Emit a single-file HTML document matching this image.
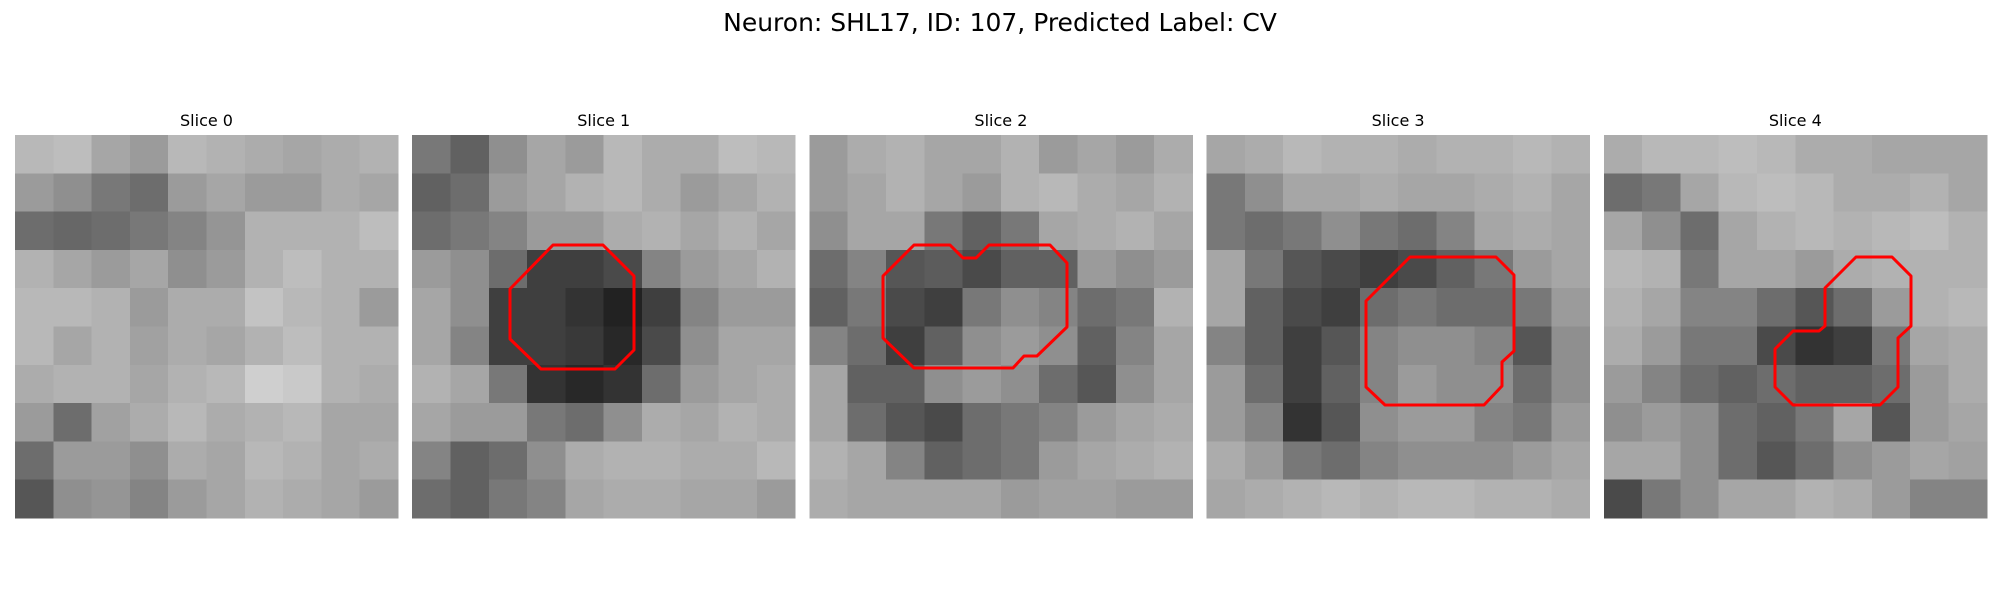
<!DOCTYPE html>
<html><head><meta charset="utf-8"><style>
html,body{margin:0;padding:0;background:#fff;width:2000px;height:600px;overflow:hidden}
svg text{font-family:"DejaVu Sans","Liberation Sans",sans-serif;fill:#000}
</style></head><body>
<svg id="fig" width="2000" height="600" viewBox="0 0 2000 600" xmlns="http://www.w3.org/2000/svg">
<text x="1000" y="31" font-size="25" text-anchor="middle">Neuron: SHL17, ID: 107, Predicted Label: CV</text>
<g id="panels"></g>
<g id="contours" fill="none" stroke="#ff0000" stroke-width="3" stroke-linejoin="round">
<polygon points="553,245 603,245 634,276 634,350 615,369 541,369 510,339 510,289"/>
<polygon points="914,245 950,245 963,258 976,258 989,245 1050,245 1067,263 1067,327 1037,356 1024,356 1013,368 914,368 883,338 883,276"/>
<polygon points="1410,257 1496,257 1514,275 1514,351 1502,362 1502,386 1484,405 1385,405 1366,387 1366,301"/>
<polygon points="1856,257 1892,257 1911,276 1911,326 1898,338 1898,387 1880,405 1793,405 1775,387 1775,349 1793,331 1819,331 1825,326 1825,288"/>
</g>
</svg>
<script>
const sliceLabels = ["Slice 0","Slice 1","Slice 2","Slice 3","Slice 4"];
const slice0 = [
[175,180,160,150,175,170,165,160,165,170],
[150,140,120,110,150,160,150,150,165,160],
[110,105,110,120,130,145,170,170,170,180],
[170,160,150,160,140,150,170,180,170,170],
[175,175,170,150,165,165,185,175,170,150],
[175,160,170,155,165,160,170,180,170,170],
[165,170,170,160,170,175,195,190,170,165],
[150,110,155,165,175,165,170,175,160,160],
[110,150,150,140,165,160,175,170,160,165],
[90,140,145,130,150,160,170,165,160,150]];
const slice1 = [
[120,100,140,160,150,175,165,165,180,175],
[100,110,150,160,170,175,165,150,160,170],
[110,120,130,150,150,165,170,160,170,160],
[150,140,110,70,70,80,130,150,160,170],
[160,140,70,70,60,45,70,130,150,150],
[160,130,70,70,65,50,80,140,160,160],
[170,160,120,60,50,60,110,150,160,165],
[160,150,150,120,110,140,165,160,170,165],
[130,100,110,140,165,170,170,165,165,175],
[110,100,120,130,160,165,165,160,160,150]];
const slice2 = [
[150,165,170,160,160,170,150,160,150,165],
[150,160,170,160,150,170,175,165,160,170],
[140,160,160,120,100,120,160,165,170,160],
[110,130,90,95,80,100,100,150,140,150],
[100,120,80,70,120,140,130,110,120,170],
[130,110,70,100,140,150,140,100,130,160],
[160,100,100,140,150,140,110,90,140,160],
[160,110,90,80,110,120,130,150,160,165],
[170,160,130,100,110,120,150,160,165,170],
[165,160,160,160,160,150,155,155,150,150]];
const slice3 = [
[160,165,175,170,170,165,170,170,175,170],
[120,140,160,160,165,160,160,165,170,160],
[120,110,120,140,120,110,130,160,165,160],
[160,120,90,80,70,80,100,120,150,160],
[160,100,80,70,110,120,110,110,120,150],
[130,100,70,90,130,140,140,130,90,140],
[150,110,70,100,130,150,140,140,110,140],
[150,130,60,90,140,150,150,130,120,150],
[165,150,120,110,130,140,140,140,150,160],
[160,165,170,175,170,175,175,170,170,165]];
const slice4 = [
[165,175,175,180,175,165,165,160,160,160],
[110,120,160,175,180,175,165,165,170,160],
[160,140,110,160,170,175,170,175,180,170],
[175,170,120,160,160,150,165,170,170,170],
[170,160,130,130,110,90,110,150,170,175],
[165,150,120,120,80,60,70,120,160,165],
[150,130,110,100,110,100,100,110,150,165],
[140,150,140,110,100,120,160,90,150,160],
[160,160,140,110,90,110,140,150,160,155],
[80,120,140,160,160,170,165,150,130,130]];
const slices = [slice0, slice1, slice2, slice3, slice4];

const NS = "http://www.w3.org/2000/svg";
const panelX0 = 15, panelStep = 397.2, panelY = 135, panelSize = 383;
function xScale(panel, col, n){ return panelX0 + panel*panelStep + col*panelSize/n; }
function yScale(row, n){ return panelY + row*panelSize/n; }
function gray(v){ return Math.max(0, Math.min(255, Math.round(1.15*(v-165)+172))); }
const root = document.getElementById('panels');
slices.forEach((grid, p) => {
  const g = document.createElementNS(NS, 'g');
  
  
  g.setAttribute('shape-rendering', 'crispEdges');
  const n = grid.length;
  grid.forEach((row, r) => {
    row.forEach((v, c) => {
      const rect = document.createElementNS(NS, 'rect');
      
      
      const x0 = xScale(p, c, row.length), x1 = xScale(p, c+1, row.length);
      const y0 = yScale(r, n), y1 = yScale(r+1, n);
      rect.setAttribute('x', x0.toFixed(2));
      rect.setAttribute('y', y0.toFixed(2));
      rect.setAttribute('width', (x1-x0+0.5).toFixed(2));
      rect.setAttribute('height', (y1-y0+0.5).toFixed(2));
      const gv = gray(v);
      rect.setAttribute('fill', `rgb(${gv},${gv},${gv})`);
      g.appendChild(rect);
    });
  });
  root.appendChild(g);
  const t = document.createElementNS(NS, 'text');
  
  
  t.setAttribute('x', (xScale(p, 0, 1) + panelSize/2).toFixed(1));
  t.setAttribute('y', '126');
  t.setAttribute('font-size', '16');
  t.setAttribute('text-anchor', 'middle');
  t.textContent = sliceLabels[p];
  root.appendChild(t);
});
</script>
</body></html>
